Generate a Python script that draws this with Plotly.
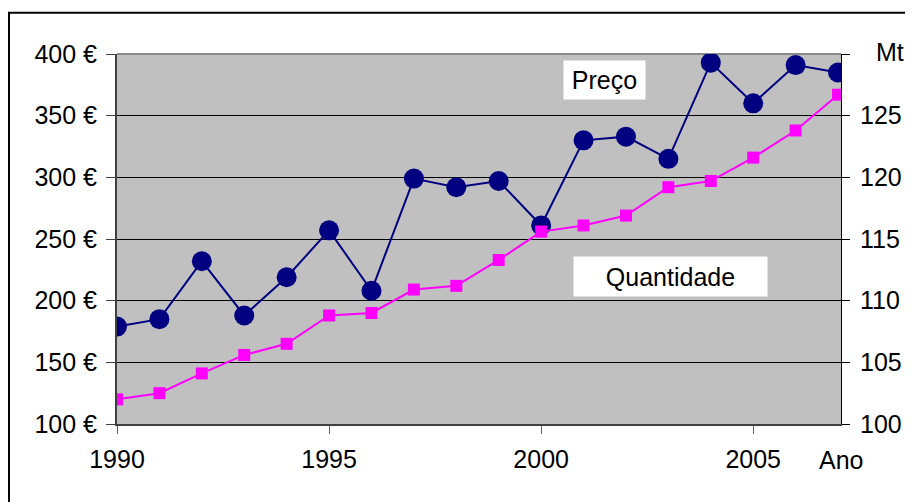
import plotly.graph_objects as go

anos = list(range(1990, 2008))
preco = [179, 185, 232, 188, 219, 257, 208, 299, 292, 297, 261, 330, 333, 315, 393, 360, 391, 385]
quantidade = [102.0, 102.5, 104.1, 105.6, 106.5, 108.8, 109.0, 110.9, 111.2, 113.3,
              115.6, 116.1, 116.9, 119.2, 119.7, 121.6, 123.8, 126.7]

ticks_preco = [100, 150, 200, 250, 300, 350, 400]
ticks_qtd = [100, 105, 110, 115, 120, 125, 130]
ticks_anos = [1990, 1995, 2000, 2005]

fonte = dict(family="Liberation Sans, Arial, sans-serif", size=25, color="black")

fig = go.Figure()
fig.add_trace(go.Scatter(
    x=anos, y=preco, mode="lines+markers", name="Preço",
    line=dict(color="#000080", width=2),
    marker=dict(symbol="circle", size=20, color="#000080"),
))
fig.add_trace(go.Scatter(
    x=anos, y=quantidade, mode="lines+markers", name="Quantidade", yaxis="y2",
    line=dict(color="#FF00FF", width=2),
    marker=dict(symbol="square", size=12, color="#FF00FF"),
))

# a pagina tem 8px de margem no body, por isso a figura e menor
fig.update_layout(
    width=905, height=494,
    margin=dict(l=109, r=72, t=46, b=78, autoexpand=False),
    paper_bgcolor="white",
    plot_bgcolor="#C0C0C0",
    showlegend=False,
    font=fonte,
    xaxis=dict(
        range=[1990, 2007.07], tickvals=ticks_anos,
        showgrid=False, zeroline=False,
        showline=True, linecolor="#404040", linewidth=2,
        ticks="outside", ticklen=8, tickcolor="#606060",
        tickfont=fonte, automargin=False, ticklabelstandoff=4,
    ),
    yaxis=dict(
        range=[100, 400], tickvals=ticks_preco,
        ticktext=[f"{v} €" for v in ticks_preco],
        showgrid=True, gridcolor="black", gridwidth=1, zeroline=False,
        showline=True, linecolor="#404040", linewidth=2,
        ticks="outside", ticklen=9, tickcolor="#404040",
        tickfont=fonte, automargin=False, ticklabelstandoff=4,
    ),
    yaxis2=dict(
        range=[100, 130], tickvals=ticks_qtd,
        ticktext=[str(v) for v in ticks_qtd[:-1]] + [""],
        overlaying="y", side="right",
        showgrid=False, zeroline=False,
        showline=True, linecolor="black", linewidth=1,
        ticks="outside", ticklen=8, tickcolor="black",
        tickfont=fonte, automargin=False, ticklabelstandoff=5,
    ),
)

# borda do grafico (so topo e esquerda visiveis) e topo cinza da area
fig.add_shape(type="rect", xref="paper", yref="paper",
              x0=-0.1492, x1=1.3, y0=-0.4, y1=1.1116,
              line=dict(color="black", width=2), layer="above")
fig.add_shape(type="line", xref="paper", yref="paper",
              x0=0, x1=1, y0=1, y1=1,
              line=dict(color="#8a8a8a", width=2), layer="between")

fig.add_annotation(text="Preço", x=2001.49, y=0.93, xref="x", yref="paper",
                   xanchor="center", yanchor="middle",
                   showarrow=False, bgcolor="white", width=81, height=38,
                   borderpad=0, font=fonte)
fig.add_annotation(text="Quantidade", x=2003.05, y=0.3986, xref="x", yref="paper",
                   xanchor="center", yanchor="middle",
                   showarrow=False, bgcolor="white", width=193, height=39,
                   borderpad=0, font=fonte)
fig.add_annotation(text="Mt", x=1.0677, y=1.0054, xref="paper", yref="paper",
                   xanchor="center", yanchor="middle",
                   showarrow=False, font=fonte)
fig.add_annotation(text="Ano", x=1.0, y=-0.0973, xref="paper", yref="paper",
                   xanchor="center", yanchor="middle",
                   showarrow=False, font=fonte)

fig.write_html("out.html")
